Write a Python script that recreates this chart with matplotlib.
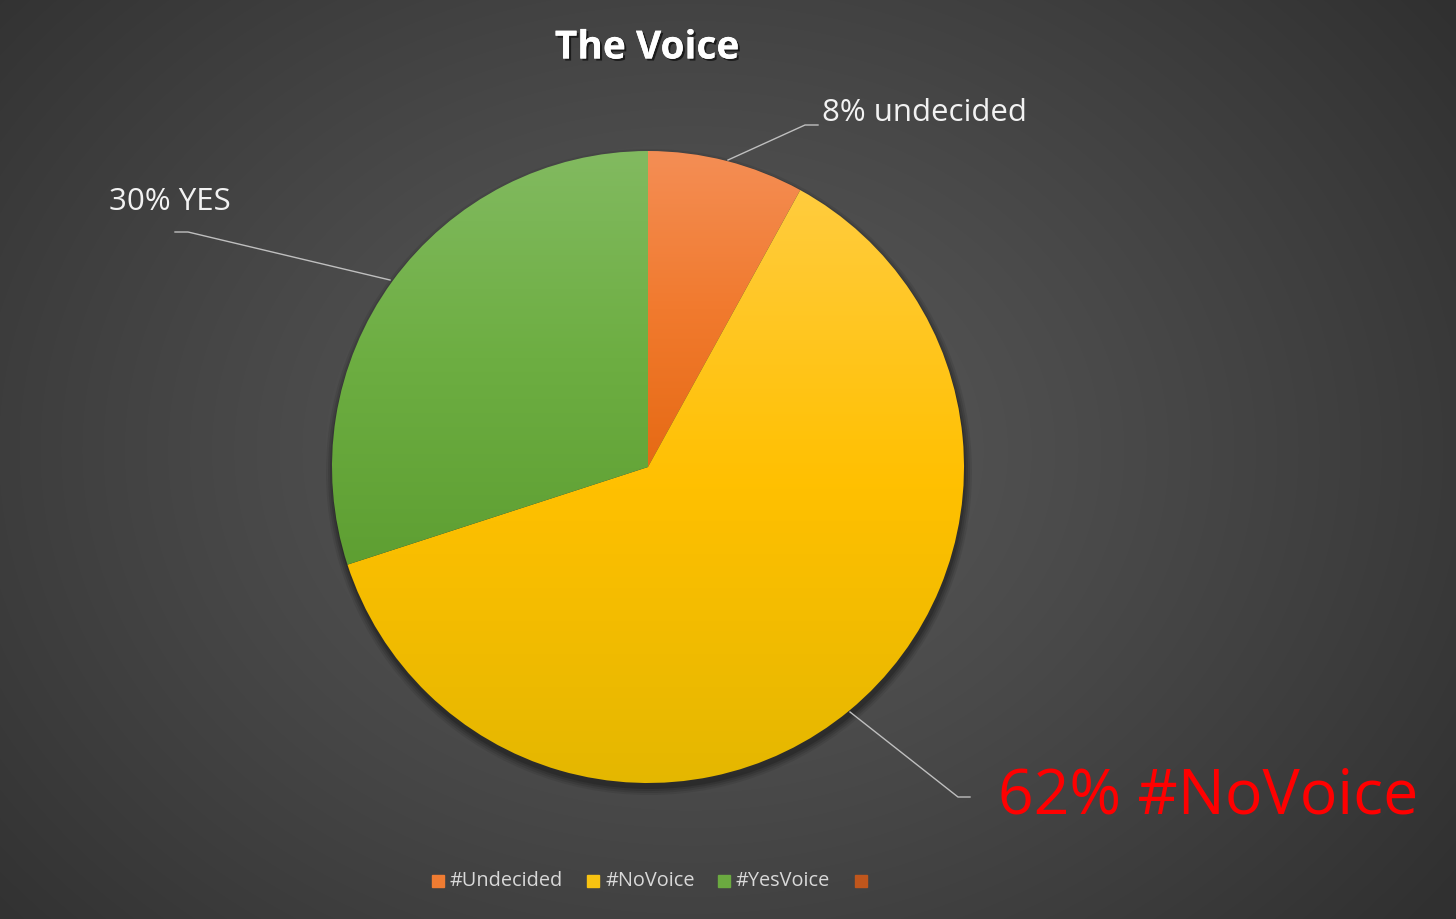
import numpy as np
import matplotlib
matplotlib.use("Agg")
import matplotlib.pyplot as plt
from matplotlib.colors import to_rgb
from matplotlib.patches import Circle, Rectangle
import matplotlib.patheffects as pe

plt.rcParams['font.family'] = ['Open Sans', 'DejaVu Sans']

title = "The Voice"
categories = ["#Undecided", "#NoVoice", "#YesVoice", ""]
values = [8, 62, 30, 0]
slice_labels = ["8% undecided", "62% #NoVoice", "30% YES", ""]
top_colors = ["#F48E55", "#FFCC3E", "#82BA60", "#C4581E"]
mid_colors = ["#F17A2E", "#FFC000", "#6DAE42", "#B84E16"]
bottom_colors = ["#E66A14", "#E4B700", "#5E9F32", "#A8450F"]
legend_colors = ["#F07C32", "#F8C311", "#6BAA40", "#C0561C"]

W, H = 1456, 919
fig = plt.figure(figsize=(W / 100, H / 100), dpi=100)
ax = fig.add_axes([0, 0, 1, 1])

# radial background gradient
yy, xx = np.mgrid[0:H, 0:W]
cx, cy = 690, 450
d = np.sqrt(((xx - cx) / 950.0) ** 2 + ((yy - cy) / 750.0) ** 2)
d = np.clip(d, 0, 1) ** 1.2
inner = np.array(to_rgb("#595959"))
outer = np.array(to_rgb("#303030"))
bg = inner[None, None, :] * (1 - d[..., None]) + outer[None, None, :] * d[..., None]
ax.imshow(bg, extent=(0, W, 0, H), origin='upper', zorder=0, aspect='auto')

pcx, pcy, R = 648, H - 467, 316

# shadow
for i, a in enumerate([0.08, 0.10, 0.12, 0.16]):
    ax.add_patch(Circle((pcx + 1, pcy - 5), R + 7 - 2 * i, color='black', alpha=a, lw=0, zorder=1))

wedges, _ = ax.pie(values, startangle=90, counterclock=False,
                   center=(pcx, pcy), radius=R, frame=True,
                   wedgeprops=dict(linewidth=0))

# vertical gradient fill for each wedge (relative to its own bounding box)
grad = np.linspace(0, 1, 256)
for w, tc, mc, bc in zip(wedges, top_colors, mid_colors, bottom_colors):
    w.set_facecolor('none')
    w.set_zorder(3)
    verts = w.get_path().vertices
    if len(verts) == 0:
        continue
    ymin, ymax = verts[:, 1].min(), verts[:, 1].max()
    if ymax - ymin < 1:
        continue
    t = np.array(to_rgb(tc)); m = np.array(to_rgb(mc)); b = np.array(to_rgb(bc))
    rows = []
    for g in grad:
        if g < 0.5:
            c = t * (1 - g / 0.5) + m * (g / 0.5)
        else:
            c = m * (1 - (g - 0.5) / 0.5) + b * ((g - 0.5) / 0.5)
        rows.append(c)
    img = np.array(rows)[:, None, :].repeat(2, axis=1)
    im = ax.imshow(img, extent=(pcx - R - 2, pcx + R + 2, ymin, ymax), origin='upper',
                   zorder=2, aspect='auto')
    im.set_clip_path(w)

ax.set_xlim(0, W)
ax.set_ylim(0, H)
ax.axis('off')

# leader lines and labels
lc = "#BFBFBF"
ax.plot([728, 805, 818], [H - 160, H - 125, H - 125], color=lc, lw=1, zorder=4)
ax.text(822, H - 113, slice_labels[0], color="#F2F2F2", fontsize=22.5,
        ha='left', va='center', zorder=5)

ax.plot([390, 188, 175], [H - 280, H - 232, H - 232], color=lc, lw=1, zorder=4)
ax.text(109, H - 202, slice_labels[2], color="#F2F2F2", fontsize=22.5,
        ha='left', va='center', zorder=5)

ax.plot([850, 958, 970], [H - 712, H - 797, H - 797], color=lc, lw=1, zorder=4)
ax.text(998, H - 797, slice_labels[1], color="#FF0000", fontsize=45,
        ha='left', va='center', zorder=5)

# title
ax.text(647, H - 48, title, color="white", fontsize=28, fontweight='bold',
        ha='center', va='center', zorder=5,
        path_effects=[pe.withSimplePatchShadow(offset=(1.5, -1.5), shadow_rgbFace='black', alpha=0.6),
                      pe.Normal()])

# legend
lx = [432, 587, 718, 855]
ly = H - 881
for x, lab, col in zip(lx, categories, legend_colors):
    ax.add_patch(Rectangle((x, ly - 6), 12, 12, color=col, zorder=5))
    if lab:
        ax.text(x + 18, ly, lab, color="#D9D9D9", fontsize=14.3, ha='left',
                va='center', zorder=5)

fig.savefig("out.png", dpi=100)
